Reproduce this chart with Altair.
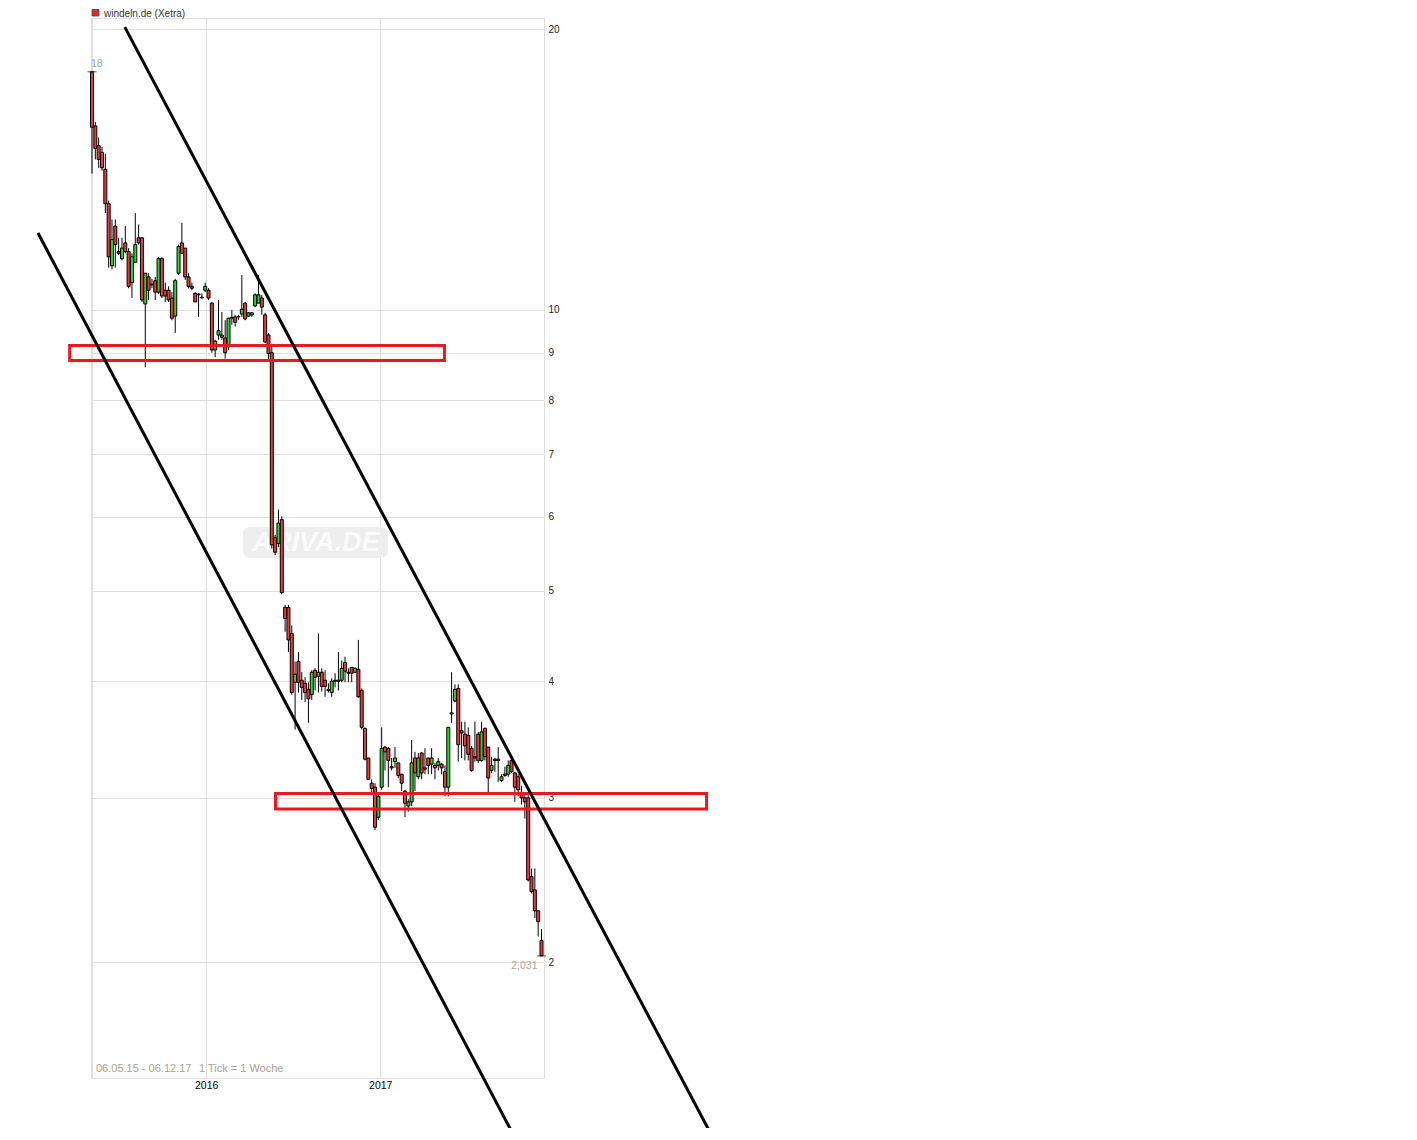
import altair as alt
import pandas as pd
import numpy as np

# ---------------- data (weekly candles, windeln.de Xetra) ----------------
first_week = "2015-05-06"
opens = [18.0, 15.75, 15.0, 14.75, 14.15, 13.0, 11.15, 12.3, 11.55, 11.35,
         11.8, 11.55, 10.7, 11.25, 11.95, 11.95, 10.15, 10.85, 10.66, 10.75,
         10.45, 11.35, 10.5, 10.5, 10.3, 9.85, 10.95, 11.8, 11.65, 10.85,
         10.6, 10.42, 10.4, 10.32, 10.5, 10.5, 10.17, 9.06, 9.4, 9.4,
         9.33, 9.13, 9.8, 9.83, 9.84, 9.9, 10.17, 9.85, 9.88, 10.1,
         10.17, 10.3, 9.88, 9.4, 9.0, 5.7, 5.62, 5.96, 4.8, 4.8,
         4.5, 3.99, 4.2, 4.01, 3.98, 3.92, 3.87, 4.11, 4.05, 4.09,
         4.01, 3.92, 3.89, 4.01, 4.0, 4.01, 4.19, 4.09, 4.14, 4.09,
         4.12, 3.91, 3.56, 3.31, 3.11, 3.08, 2.86, 3.08, 3.4, 3.39,
         3.24, 3.28, 3.27, 3.18, 3.05, 2.94, 2.97, 3.31, 3.16, 3.35,
         3.23, 3.31, 3.26, 3.25, 3.25, 3.26, 3.2, 3.08, 3.69, 3.81,
         3.93, 3.54, 3.51, 3.5, 3.39, 3.32, 3.51, 3.29, 3.56, 3.4,
         3.21, 3.3, 3.29, 3.13, 3.18, 3.18, 3.29, 3.19, 3.16, 3.04,
         3.0, 3.0, 2.47, 2.39, 2.27, 2.11]
highs = [18.0, 15.9, 15.3, 14.95, 14.7, 13.1, 12.5, 12.5, 11.95, 11.95,
         12.3, 11.65, 11.5, 12.7, 12.35, 11.95, 10.95, 10.95, 10.8, 10.85,
         11.4, 11.4, 10.7, 10.6, 10.45, 10.8, 11.75, 12.4, 11.65, 10.95,
         10.7, 10.45, 10.42, 10.42, 10.7, 10.55, 10.2, 9.29, 10.25, 9.95,
         9.75, 9.8, 10.0, 9.88, 9.88, 10.9, 10.2, 9.95, 9.95, 10.42,
         10.9, 10.38, 9.93, 9.45, 9.2, 5.74, 6.11, 6.01, 4.83, 4.83,
         4.59, 4.2, 4.3, 4.09, 4.04, 3.99, 4.11, 4.13, 4.5, 4.13,
         4.11, 3.98, 4.03, 4.08, 4.3, 4.21, 4.25, 4.13, 4.14, 4.14,
         4.43, 3.93, 3.57, 3.31, 3.14, 3.11, 3.04, 3.57, 3.41, 3.4,
         3.31, 3.4, 3.27, 3.18, 3.06, 2.99, 3.46, 3.36, 3.35, 3.36,
         3.39, 3.31, 3.39, 3.27, 3.31, 3.27, 3.25, 3.57, 4.09, 3.97,
         3.97, 3.62, 3.62, 3.57, 3.41, 3.62, 3.53, 3.62, 3.57, 3.4,
         3.32, 3.31, 3.4, 3.18, 3.24, 3.29, 3.32, 3.2, 3.18, 3.09,
         3.02, 3.02, 2.52, 2.52, 2.27, 2.17]
lows = [14.0, 14.5, 14.2, 14.1, 12.7, 11.1, 11.05, 11.1, 11.45, 11.3,
        11.5, 10.55, 10.3, 11.25, 11.75, 10.2, 8.68, 10.25, 10.55, 10.25,
        10.4, 10.3, 10.2, 10.2, 9.75, 9.45, 10.9, 11.5, 10.77, 10.55,
        10.5, 10.2, 9.83, 10.3, 10.45, 10.25, 9.0, 8.9, 9.29, 9.29,
        8.87, 9.06, 9.64, 9.6, 9.76, 9.83, 9.75, 9.83, 9.83, 10.07,
        10.17, 9.88, 9.22, 8.84, 5.55, 5.46, 5.57, 4.96, 4.52, 4.3,
        3.87, 3.55, 3.89, 3.82, 3.8, 3.61, 3.82, 3.91, 3.89, 3.9,
        3.85, 3.89, 3.85, 3.94, 3.91, 3.99, 3.99, 3.99, 3.99, 4.08,
        3.84, 3.55, 3.29, 3.14, 3.04, 2.77, 2.84, 3.06, 3.21, 3.08,
        3.21, 3.23, 3.15, 3.05, 2.86, 2.9, 2.94, 3.05, 3.14, 3.14,
        3.18, 3.18, 3.18, 3.14, 3.21, 3.18, 3.01, 3.01, 3.61, 3.8,
        3.28, 3.31, 3.29, 3.29, 3.2, 3.28, 3.27, 3.28, 3.29, 3.04,
        3.19, 3.2, 3.12, 3.12, 3.16, 3.16, 3.19, 2.97, 3.01, 2.95,
        2.85, 2.44, 2.37, 2.23, 2.13, 2.031]
closes = [15.7, 14.9, 14.5, 14.2, 13.0, 11.4, 11.9, 11.75, 11.5, 11.65,
          11.55, 10.6, 11.4, 11.75, 11.8, 10.25, 10.95, 10.5, 10.64, 10.45,
          11.35, 10.35, 10.35, 10.25, 9.8, 10.75, 11.7, 11.5, 10.85, 10.6,
          10.55, 10.2, 10.38, 10.3, 10.6, 10.3, 9.06, 9.26, 9.5, 9.35,
          9.0, 9.8, 9.82, 9.7, 9.83, 10.02, 9.78, 9.93, 9.93, 10.38,
          10.38, 10.07, 9.24, 8.98, 5.6, 5.5, 5.91, 4.98, 4.67, 4.43,
          3.89, 4.07, 3.99, 3.94, 3.89, 3.83, 4.09, 4.04, 4.09, 3.95,
          3.95, 3.91, 4.0, 4.0, 4.01, 4.13, 4.1, 4.08, 4.08, 4.13,
          3.85, 3.57, 3.3, 3.14, 3.07, 2.79, 3.01, 3.39, 3.36, 3.29,
          3.23, 3.31, 3.17, 3.11, 2.96, 2.97, 3.27, 3.19, 3.31, 3.19,
          3.22, 3.25, 3.31, 3.23, 3.28, 3.23, 3.08, 3.57, 3.7, 3.92,
          3.42, 3.52, 3.41, 3.34, 3.21, 3.31, 3.29, 3.53, 3.32, 3.15,
          3.25, 3.29, 3.3, 3.16, 3.17, 3.25, 3.2, 3.08, 3.06, 3.0,
          2.97, 2.45, 2.38, 2.27, 2.21, 2.031]

y_ticks = [2, 3, 4, 5, 6, 7, 8, 9, 10, 20]

# hand-drawn trend channel (two lines) and support zones (two boxes)
trend_ids = ["upper", "upper", "lower", "lower"]
trend_dates = ["2015-07-14 00:00", "2018-12-03 17:00", "2015-01-12 12:00", "2017-10-13 10:00"]
trend_prices = [20.1, 1.29, 12.09, 1.29]

zone_start = ["2015-03-20 00:00", "2016-05-25 19:00"]
zone_end = ["2017-05-16 00:00", "2018-11-18 00:00"]
zone_top = [9.16, 3.033]
zone_bottom = [8.83, 2.918]

# ---------------- frames ----------------
dates = pd.date_range(first_week, periods=len(opens), freq="7D")
candles = pd.DataFrame({"date": dates, "open": opens, "high": highs,
                        "low": lows, "close": closes})
candles["dir"] = np.where(candles["close"] >= candles["open"], "up", "down")

trend = pd.DataFrame({"line": trend_ids, "date": pd.to_datetime(trend_dates),
                      "price": trend_prices})
zones = pd.DataFrame({"start": pd.to_datetime(zone_start), "end": pd.to_datetime(zone_end),
                      "top": zone_top, "bottom": zone_bottom})
hi_df = pd.DataFrame({"date": [dates[0]], "price": [max(highs)], "label": ["18"]})
lo_df = pd.DataFrame({"date": [dates[-1]], "price": [min(lows)], "label": ["2,031"]})
one = pd.DataFrame({"a": [0]})

FONT = "Liberation Sans"
xscale = alt.Scale(domain=[alt.DateTime(year=2015, month=5, date=3, hours=21, minutes=36),
                           alt.DateTime(year=2017, month=12, date=11, hours=6)],
                   nice=False, padding=0)
yscale = alt.Scale(type="log", domain=[1.5025, 20.556], nice=False, padding=0)

xaxis = alt.Axis(values=[alt.DateTime(year=2015, month=5, date=6),
                         alt.DateTime(year=2016, month=1, date=1),
                         alt.DateTime(year=2017, month=1, date=1)],
                 format="%Y", labelExpr="datum.label == '2015' ? '' : datum.label",
                 tickSize=0, labelPadding=2, grid=True, gridColor="#dedede",
                 domain=False, labelFontSize=10.5, labelColor="#000000", labelFont=FONT)
yaxis = alt.Axis(orient="right", values=y_ticks, format="d", tickSize=0, labelPadding=4,
                 grid=True, gridColor="#dedede", domain=False, labelFontSize=10,
                 labelColor="#222222", labelFont=FONT)


def X(field):
    return alt.X(f"{field}:T", scale=xscale, axis=xaxis, title=None)


def Y(field):
    return alt.Y(f"{field}:Q", scale=yscale, axis=yaxis, title=None)


watermark_bg = alt.Chart(one).mark_rect(fill="#eeeeee", cornerRadius=7).encode(
    x=alt.value(152), x2=alt.value(297), y=alt.value(509), y2=alt.value(540))
watermark_txt = alt.Chart(one).mark_text(
    text="ARIVA.DE", font=FONT, fontSize=27, fontStyle="italic", fontWeight="bold",
    color="#fbfbfb", align="center", baseline="middle").encode(
    x=alt.value(225), y=alt.value(525))

wicks = alt.Chart(candles).mark_rule(color="black", strokeWidth=1).encode(
    x=X("date"), y=Y("low"), y2="high")
bodies = alt.Chart(candles).mark_bar(size=3, stroke="black", strokeWidth=1).encode(
    x=X("date"), y=Y("open"), y2="close",
    color=alt.Color("dir:N", scale=alt.Scale(domain=["up", "down"],
                                             range=["#2fd42f", "#ea3a3c"]), legend=None))

hi_tick = alt.Chart(hi_df).mark_tick(orient="horizontal", size=9, thickness=1, color="black").encode(
    x=X("date"), y=Y("price"))
lo_tick = alt.Chart(lo_df).mark_tick(orient="horizontal", size=9, thickness=1, color="black").encode(
    x=X("date"), y=Y("price"))
hi_txt = alt.Chart(hi_df).mark_text(align="left", baseline="bottom", dx=-1, dy=-3,
                                    font=FONT, fontSize=10.5, color="#8fa3c6").encode(
    x=X("date"), y=Y("price"), text="label:N")
lo_txt = alt.Chart(lo_df).mark_text(align="right", baseline="top", dx=-4, dy=5,
                                    font=FONT, fontSize=10.5, color="#b3a899").encode(
    x=X("date"), y=Y("price"), text="label:N")

boxes = alt.Chart(zones).mark_rect(fill=None, fillOpacity=0, stroke="#f0161e", strokeWidth=3).encode(
    x=X("start"), x2="end", y=Y("top"), y2="bottom")

lines = alt.Chart(trend).mark_line(color="black", strokeWidth=3).encode(
    x=X("date"), y=Y("price"), detail="line:N")

legend_sq = alt.Chart(one).mark_rect(fill="#e02a2a", stroke="#444444", strokeWidth=0.8).encode(
    x=alt.value(1), x2=alt.value(8), y=alt.value(-8.5), y2=alt.value(-2))
legend_txt = alt.Chart(one).mark_text(text="windeln.de (Xetra)", font=FONT, fontSize=10,
                                      color="#333333", align="left", baseline="alphabetic").encode(
    x=alt.value(13), y=alt.value(-1.5))
foot1 = alt.Chart(one).mark_text(text="06.05.15 - 06.12.17", font=FONT, fontSize=11,
                                 color="#a8a192", align="left", baseline="middle").encode(
    x=alt.value(5), y=alt.value(1051))
foot2 = alt.Chart(one).mark_text(text="1 Tick = 1 Woche", font=FONT, fontSize=11,
                                 color="#a8a192", align="left", baseline="middle").encode(
    x=alt.value(108), y=alt.value(1051))

chart = alt.layer(
    watermark_bg, watermark_txt, wicks, bodies, hi_tick, lo_tick, hi_txt, lo_txt,
    boxes, lines, legend_sq, legend_txt, foot1, foot2
).properties(
    width=453, height=1060,
    padding={"left": 83, "top": 10, "right": 176, "bottom": 50},
    autosize=alt.AutoSizeParams(type="none"),
    background="white",
).configure_view(stroke="#c8c8c8", strokeWidth=1).configure(font=FONT)

chart.save("out.html", embed_options={"renderer": "svg", "actions": False})
